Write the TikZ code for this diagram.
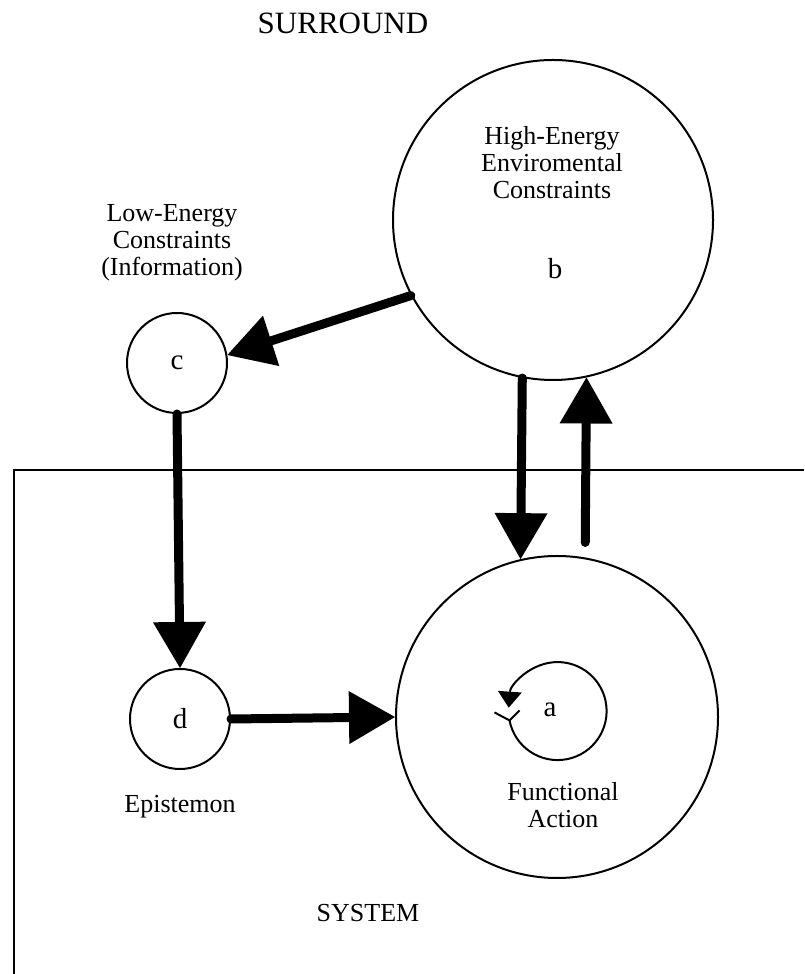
\documentclass[tikz,border=0pt]{standalone}
\usepackage{fontspec}
\setmainfont{Liberation Serif}
\usetikzlibrary{arrows.meta,positioning}

\begin{document}
\begin{tikzpicture}[x=0.5pt,y=0.5pt,font=\fontsize{13}{13.5}\selectfont,
  zone/.style={circle,draw,line width=1pt,inner sep=0pt},
  words/.style={align=center,inner sep=0pt},
  letter/.style={font=\fontsize{14.5}{16}\selectfont},
  flow/.style={line width=4.5pt,line cap=round,-{Triangle[length=23pt,width=26.5pt,line width=0pt]}}]

  \useasboundingbox (0,0) rectangle (804,974);

  \node[words,font=\fontsize{15.5}{18}\selectfont] (surround) at (343,951) {SURROUND};
  \draw[line width=1pt] (14,0) -- (14,504) -- (804,504);
  \node[words] (system) at (368,61) {SYSTEM};

  \node[zone,minimum size=160pt] (nodeb) at (553,754) {};
  \node[zone,letter,minimum size=50pt] (nodec) at (177,611) {c};
  \node[zone,letter,minimum size=50pt] (noded) at (180,255) {d};
  \node[zone,minimum size=161pt] (nodea) at (557,257) {};
  \node[circle,inner sep=0pt,minimum size=49pt] (loop) at (558,263) {};

  \node[words] (high) at (552,811) {High-Energy\\Enviromental\\Constraints};
  \node[words,letter] (bname) at (555,705) {b};
  \node[words] (low) at (172,731) {Low-Energy\\Constraints\\(Information)};
  \node[words] (epis) [below=12.5pt of noded] {Epistemon};
  \node[words,letter] (aname) at (550,264) {a};
  \node[words] (func) at (563,169) {Functional\\Action};

  \path (nodeb.208) edge[flow] (nodec.9)
    (nodec.south) edge[flow] (noded.north)
    (noded.east) edge[flow] (nodea.west)
    (nodeb.259) edge[flow] (nodea.103)
    (nodea.80) edge[flow,shorten <=7.5pt] (nodeb.282);

  % self loop of a
  \draw[line width=1pt,-{Triangle[length=8pt,width=12pt,line width=0pt]}]
    (loop.191) arc[start angle=191,end angle=536,radius=24.5pt];
  \draw[line width=1pt] (loop.191) -- ++(-15,8) (loop.191) -- ++(10,10);

\end{tikzpicture}
\end{document}
